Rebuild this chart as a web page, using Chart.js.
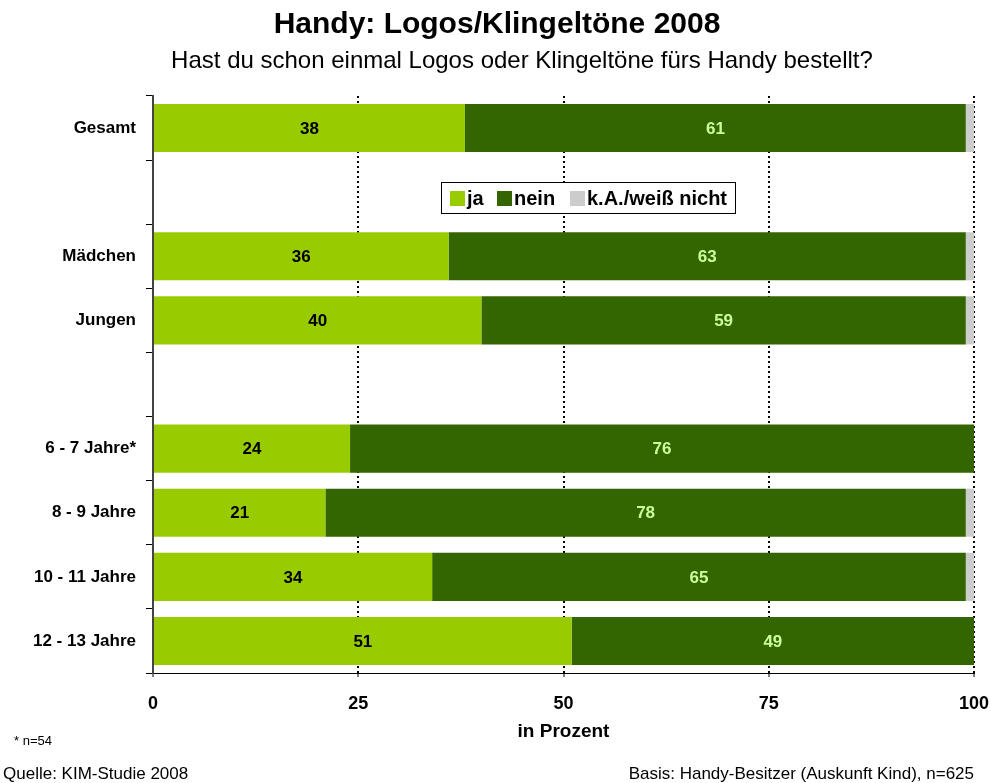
<!DOCTYPE html>
<html>
<head>
<meta charset="utf-8">
<script src="https://cdn.jsdelivr.net/npm/chart.js@4"></script>
<style>
  html, body { margin: 0; padding: 0; background: #fff; }
  #wrap { width: 991px; height: 783px; position: relative; }
</style>
</head>
<body>
<div id="wrap"><canvas id="myChart" width="991" height="783"></canvas></div>
<script>
// categories ('' = empty spacer row)
const categories = ['Gesamt', '', 'Mädchen', 'Jungen', '', '6 - 7 Jahre*', '8 - 9 Jahre', '10 - 11 Jahre', '12 - 13 Jahre'];
const jaValues   = [38, null, 36, 40, null, 24, 21, 34, 51];
const neinValues = [61, null, 63, 59, null, 76, 78, 65, 49];
const kaValues   = [1, null, 1, 1, null, 0, 1, 1, 0];
const xTicks = [0, 25, 50, 75, 100];

const FONT = "'Liberation Sans', Arial, sans-serif";

// value labels inside the bars
const barLabels = {
    id: 'barLabels',
    afterDatasetsDraw(chart) {
        const ctx = chart.ctx;
        ctx.save();
        ctx.font = "bold 17px " + FONT;
        ctx.textAlign = 'center';
        ctx.textBaseline = 'middle';
        [0, 1].forEach(function(di) {
            const meta = chart.getDatasetMeta(di);
            const ds = chart.data.datasets[di];
            ctx.fillStyle = di == 0 ? '#000000' : '#ccff99';
            meta.data.forEach(function(bar, i) {
                const v = ds.data[i];
                if (v == null || v == 0) return;
                const x = (bar.x + bar.base) / 2;
                ctx.fillText(String(v), x, bar.y + 1);
            });
        });
        ctx.restore();
    }
};

// titles, legend box inside the plot, footnotes
const extras = {
    id: 'extras',
    afterDraw(chart) {
        const ctx = chart.ctx;
        const ds = chart.data.datasets;
        ctx.save();
        ctx.fillStyle = '#000000';
        ctx.textBaseline = 'middle';
        ctx.textAlign = 'center';
        ctx.font = "bold 30px " + FONT;
        ctx.fillText('Handy: Logos/Klingeltöne 2008', 497, 25);
        ctx.font = "24px " + FONT;
        ctx.fillText('Hast du schon einmal Logos oder Klingeltöne fürs Handy bestellt?', 522, 61);
        // legend
        const bx = 441, by = 182, bw = 294, bh = 31;
        ctx.fillStyle = '#ffffff';
        ctx.fillRect(bx, by, bw, bh);
        ctx.strokeStyle = '#000000';
        ctx.lineWidth = 1;
        ctx.strokeRect(bx + 0.5, by + 0.5, bw, bh);
        ctx.font = "bold 20px " + FONT;
        ctx.textAlign = 'left';
        const itemX = [450, 497, 570];
        ds.forEach(function(d, i) {
            ctx.fillStyle = d.backgroundColor;
            ctx.fillRect(itemX[i], by + 9, 15, 15);
            ctx.fillStyle = '#000000';
            ctx.fillText(d.label, itemX[i] + 17, by + 17);
        });
        // footnotes
        ctx.font = "13px " + FONT;
        ctx.fillText('* n=54', 14, 741);
        ctx.font = "17px " + FONT;
        ctx.fillText('Quelle: KIM-Studie 2008', 3, 774);
        ctx.textAlign = 'right';
        ctx.fillText('Basis: Handy-Besitzer (Auskunft Kind), n=625', 974, 774);
        ctx.restore();
    }
};

const ctx = document.getElementById('myChart').getContext('2d');
const myChart = new Chart(ctx, {
    type: 'bar',
    data: {
        labels: categories,
        datasets: [
            { label: 'ja', data: jaValues, backgroundColor: '#99cc00' },
            { label: 'nein', data: neinValues, backgroundColor: '#336600' },
            { label: 'k.A./weiß nicht', data: kaValues, backgroundColor: '#cccccc' }
        ]
    },
    options: {
        indexAxis: 'y',
        responsive: false,
        animation: false,
        layout: { padding: { top: 96, left: 0, right: 17, bottom: 40 } },
        datasets: {
            bar: { categoryPercentage: 1.0, barPercentage: 0.75, borderWidth: 0 }
        },
        plugins: {
            legend: { display: false },
            tooltip: { enabled: false },
            title: { display: false }
        },
        scales: {
            x: {
                stacked: true,
                min: 0,
                max: 100,
                afterBuildTicks: function(scale) {
                    scale.ticks = xTicks.map(function(v) { return { value: v }; });
                },
                afterFit: function(scale) {
                    scale.height = 70;
                    scale.paddingLeft = 0;
                    scale.paddingRight = 0;
                },
                ticks: {
                    color: '#000',
                    font: { family: FONT, size: 18, weight: 'bold' },
                    padding: 16,
                    maxRotation: 0
                },
                grid: {
                    color: function(c) { return c.tick && c.tick.value == 0 ? 'rgba(0,0,0,0)' : '#000'; },
                    lineWidth: 2,
                    drawTicks: true,
                    tickLength: 4,
                    tickColor: '#000',
                    tickWidth: 1
                },
                border: { display: true, color: '#000', width: 1, dash: [2, 3] },
                title: {
                    display: true,
                    text: 'in Prozent',
                    color: '#000',
                    font: { family: FONT, size: 19, weight: 'bold' },
                    padding: { top: 4, bottom: 0 }
                }
            },
            y: {
                stacked: true,
                offset: true,
                afterFit: function(scale) {
                    scale.width = 153;
                    scale.paddingTop = 0;
                    scale.paddingBottom = 0;
                },
                ticks: {
                    color: '#000',
                    font: { family: FONT, size: 17, weight: 'bold' },
                    padding: 10
                },
                grid: {
                    offset: true,
                    drawOnChartArea: false,
                    drawTicks: true,
                    tickLength: 7,
                    tickColor: '#000',
                    tickWidth: 1
                },
                border: { display: true, color: '#444', width: 2 }
            }
        }
    },
    plugins: [barLabels, extras]
});
</script>
</body>
</html>
